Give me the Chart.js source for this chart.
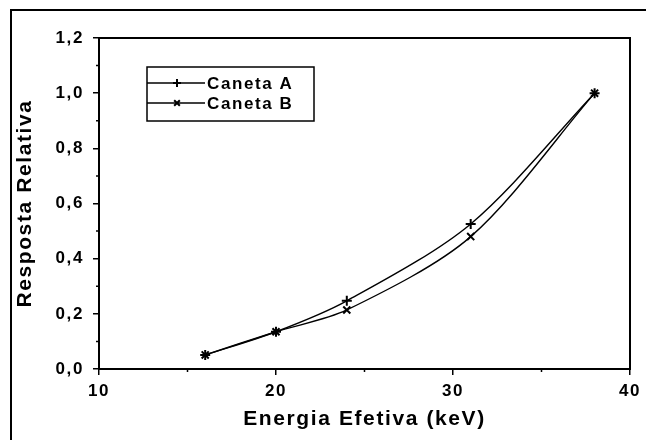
<!DOCTYPE html>
<html lang="pt">
<head>
    <meta charset="UTF-8" />
    <title>Resposta Relativa - Canetas</title>
    <script src="https://cdn.jsdelivr.net/npm/chart.js"></script>
    <style>
        html, body { margin: 0; padding: 0; background: #fff; }
        #wrap { position: relative; width: 646px; height: 440px; }
        #moldura {
            position: absolute; left: 10px; top: 9px; right: 0; bottom: 0;
            border-top: 2px solid #000; border-left: 2px solid #000;
            pointer-events: none;
        }
    </style>
</head>
<body>
    <div id="wrap">
        <canvas id="grafica" width="646" height="440"></canvas>
        <div id="moldura"></div>
    </div>

    <script>
        // dados
        const energias = [16, 20, 24, 31, 38];
        const canetaA = [0.051, 0.135, 0.247, 0.526, 1.0];
        const canetaB = [0.051, 0.135, 0.214, 0.480, 1.0];
        const ticksX = [10, 20, 30, 40];
        const ticksY = [0, 0.2, 0.4, 0.6, 0.8, 1.0, 1.2];

        const fonte = "'Liberation Sans', Arial, sans-serif";

        function pontos(ys) {
            return energias.map((x, i) => ({ x, y: ys[i] }));
        }

        // espaçamento entre letras, como no original
        const espacamento = {
            id: 'espacamento',
            beforeDraw(chart) { chart.ctx.letterSpacing = '1.6px'; }
        };

        // caixa do gráfico e marcas secundárias
        const moldura = {
            id: 'moldura',
            afterDatasetsDraw(chart) {
                const { ctx, chartArea: a, scales } = chart;
                ctx.save();
                ctx.strokeStyle = '#000';
                ctx.lineWidth = 2;
                ctx.strokeRect(a.left, a.top, a.right - a.left, a.bottom - a.top);
                ctx.lineWidth = 1.5;
                ctx.beginPath();
                for (let v = 15; v < 40; v += 10) {
                    const px = scales.x.getPixelForValue(v);
                    ctx.moveTo(px, a.bottom);
                    ctx.lineTo(px, a.bottom + 3);
                }
                for (let v = 0.1; v < 1.2; v += 0.2) {
                    const py = scales.y.getPixelForValue(v);
                    ctx.moveTo(a.left, py);
                    ctx.lineTo(a.left - 3, py);
                }
                ctx.stroke();
                ctx.restore();
            }
        };

        // legenda no estilo Origin: linha com símbolo no meio
        const legenda = {
            id: 'legendaCaixa',
            afterDraw(chart) {
                const { ctx, chartArea: a } = chart;
                const x0 = a.left + 48, y0 = a.top + 29, w = 167, h = 54;
                ctx.save();
                ctx.strokeStyle = '#000';
                ctx.lineWidth = 1.5;
                ctx.strokeRect(x0, y0, w, h);
                ctx.font = 'bold 17px ' + fonte;
                ctx.letterSpacing = '1.6px';
                ctx.fillStyle = '#000';
                ctx.textBaseline = 'middle';
                chart.data.datasets.forEach((ds, i) => {
                    const yy = y0 + 16 + i * 20;
                    ctx.lineWidth = 1.4;
                    ctx.beginPath();
                    ctx.moveTo(x0, yy);
                    ctx.lineTo(x0 + 58, yy);
                    ctx.stroke();
                    ctx.lineWidth = 2;
                    Chart.helpers.drawPoint(ctx, { pointStyle: ds.pointStyle, radius: 4, rotation: 0, borderWidth: 2 }, x0 + 30, yy);
                    ctx.fillText(ds.label, x0 + 60, yy + 1);
                });
                ctx.restore();
            }
        };

        const fonteTicks = { family: fonte, size: 17, weight: 'bold' };
        const fonteTitulo = { family: fonte, size: 21, weight: 'bold', lineHeight: 1.2 };

        new Chart(document.getElementById('grafica'), {
            type: 'line',
            data: {
                datasets: [
                    {
                        label: 'Caneta A',
                        data: pontos(canetaA),
                        pointStyle: 'cross',
                        pointRadius: 5,
                        pointBorderWidth: 2,
                        borderColor: '#000',
                        pointBorderColor: '#000',
                        borderWidth: 1.4,
                        tension: 0.3,
                        fill: false
                    },
                    {
                        label: 'Caneta B',
                        data: pontos(canetaB),
                        pointStyle: 'crossRot',
                        pointRadius: 5,
                        pointBorderWidth: 2,
                        borderColor: '#000',
                        pointBorderColor: '#000',
                        borderWidth: 1.4,
                        tension: 0.3,
                        fill: false
                    }
                ]
            },
            options: {
                responsive: false,
                animation: false,
                layout: { padding: { left: 0, top: 38, right: 16, bottom: 0 } },
                plugins: { legend: { display: false }, tooltip: { enabled: false } },
                scales: {
                    x: {
                        type: 'linear',
                        min: 10, max: 40,
                        afterBuildTicks: s => { s.ticks = ticksX.map(v => ({ value: v })); },
                        afterFit: s => { s.height = 71; },
                        grid: { drawOnChartArea: false, drawTicks: true, tickLength: 6, color: '#000', lineWidth: 1.5 },
                        border: { display: false },
                        ticks: { color: '#000', font: fonteTicks, padding: 6, maxRotation: 0 },
                        title: {
                            display: true, text: 'Energia Efetiva (keV)', color: '#000',
                            font: fonteTitulo, padding: { top: 0, bottom: 8 }
                        }
                    },
                    y: {
                        min: 0, max: 1.2,
                        afterBuildTicks: s => { s.ticks = ticksY.map(v => ({ value: v })); },
                        afterFit: s => { s.width = 99; },
                        grid: { drawOnChartArea: false, drawTicks: true, tickLength: 6, color: '#000', lineWidth: 1.5 },
                        border: { display: false },
                        ticks: {
                            color: '#000', font: fonteTicks, padding: 9,
                            callback: v => v.toFixed(1).replace('.', ',')
                        },
                        title: {
                            display: true, text: 'Resposta Relativa', color: '#000',
                            font: fonteTitulo, padding: { top: 13, bottom: 0 }
                        }
                    }
                }
            },
            plugins: [espacamento, moldura, legenda]
        });
    </script>
</body>
</html>
